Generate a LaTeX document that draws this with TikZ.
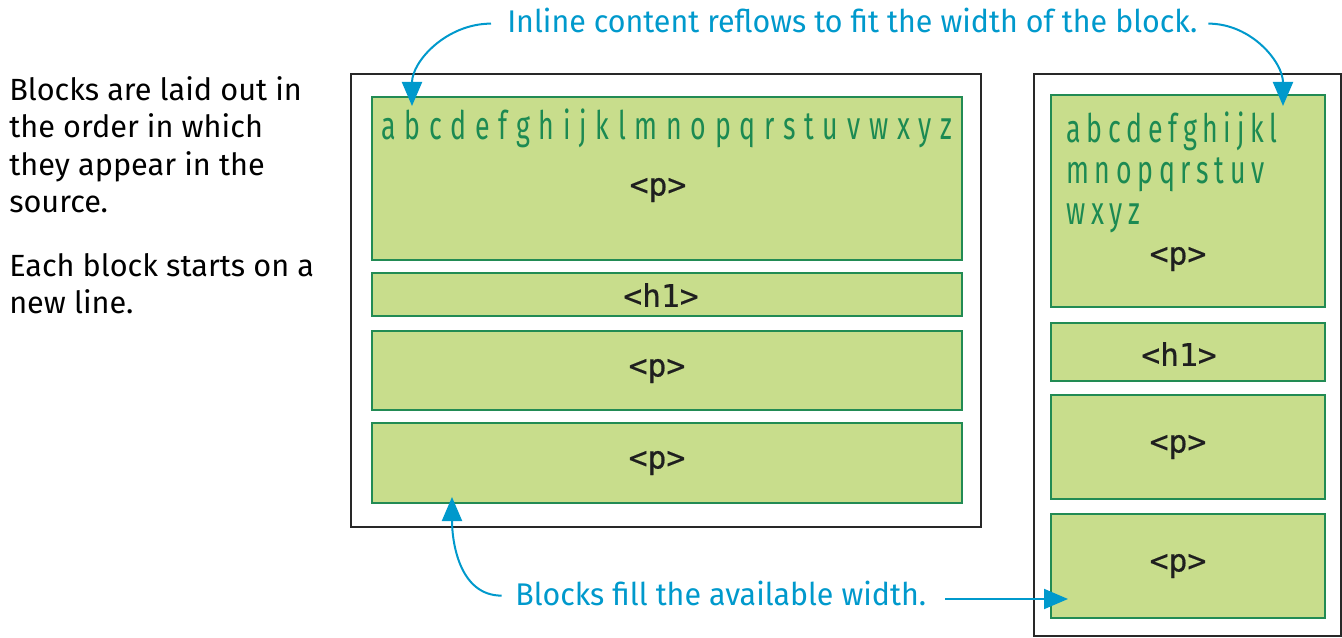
\documentclass[tikz,border=0pt]{standalone}
\usepackage{fontspec}
\setmainfont{Fira Sans}
\newfontfamily\narrowfont[FakeStretch=0.97]{Fira Sans}
\newfontfamily\alphafont[FakeStretch=0.68]{Fira Sans}
\newfontfamily\codefont[FakeBold=0.4]{DejaVu Sans Mono}
\usetikzlibrary{arrows.meta,fit}
\definecolor{callblue}{RGB}{0,153,204}
\definecolor{blockfill}{RGB}{200,221,140}
\definecolor{blockline}{RGB}{34,139,84}
\definecolor{alphagreen}{RGB}{28,138,82}
\definecolor{outerline}{RGB}{40,40,40}
\begin{document}
\begin{tikzpicture}[x=0.75pt,y=-0.75pt,
  outerbox/.style={draw=outerline, line width=1.5pt, inner sep=0pt},
  block/.style={draw=blockline, fill=blockfill, line width=1.5pt, inner sep=0pt},
  code/.style={font=\codefont\fontsize{23.5}{27}\selectfont, text=black!88, inner sep=0pt},
  alphabet/.style={font=\alphafont\fontsize{29.5}{30.75}\selectfont, text=alphagreen, inner sep=0pt, align=left},
  note/.style={font=\narrowfont\fontsize{23.5}{28}\selectfont, text=callblue, inner sep=0pt},
  body/.style={font=\fontsize{23}{28.1}\selectfont, inner sep=0pt, align=left},
  callout/.style={draw=callblue, line width=1.5pt, -{Triangle[length=18pt,width=15pt]}}
]
\useasboundingbox (0,0) rectangle (1342,638);
% left column text
\node[body, anchor=north west] (para1) at (9,76) {Blocks are laid out in\\the order in which\\they appear in the\\source.};
\node[body, anchor=north west] (para2) at (9,253) {Each block starts on a\\new line.};
% outer containers
\node[outerbox, fit={(351,74)(981,527)}] (wide) {};
\node[outerbox, fit={(1034,74)(1341,636)}] (narrow) {};
% wide blocks
\node[block, fit={(372,97)(962,260)}] (L1) {};
\node[block, fit={(372,273)(962,316)}] (L2) {};
\node[block, fit={(372,331)(962,410)}] (L3) {};
\node[block, fit={(372,423)(962,503)}] (L4) {};
% narrow blocks
\node[block, fit={(1051,95)(1325,307)}] (R1) {};
\node[block, fit={(1051,323)(1325,381)}] (R2) {};
\node[block, fit={(1051,395)(1325,499)}] (R3) {};
\node[block, fit={(1051,514)(1325,618)}] (R4) {};
% inline content
\node[alphabet, anchor=base west] (La) at (381,140) {\makebox[428.25pt][s]{a b c d e f g h i j k l m n o p q r s t u v w x y z}};
\node[alphabet, anchor=north west, execute at begin node={\spaceskip=0.8\fontdimen2\font}] (Ra) at (1066,112) {a b c d e f g h i j k l\\m n o p q r s t u v\\w x y z};
% tag labels
\node[code] (L1t) at (658,190) {<p>};
\node[code] (L2t) at (661,295) {<h1>};
\node[code] (L3t) at (657,371) {<p>};
\node[code] (L4t) at (657,463) {<p>};
\node[code] (R1t) at (1178,259) {<p>};
\node[code] (R2t) at (1179,354) {<h1>};
\node[code] (R3t) at (1178,447) {<p>};
\node[code] (R4t) at (1178,566) {<p>};
% callouts
\node[note, anchor=base west] (n1) at (507,33) {Inline content reflows to fit the width of the block.};
\node[note, anchor=base west] (n2) at (515,605) {Blocks fill the available width.};
\coordinate (t1) at (412,106);
\coordinate (t2) at (1283,106);
\coordinate (t3) at (452,497);
\coordinate (t4) at (1068,599);
\draw[callout] ([xshift=-12pt,yshift=-2pt]n1.west) to[out=180,in=90] (t1);
\draw[callout] ([xshift=8pt,yshift=-2pt]n1.east) to[out=0,in=90] (t2);
\draw[callout] ([xshift=-10pt,yshift=-2pt]n2.west) to[out=180,in=-90] (t3);
\draw[callout] ([xshift=14pt]n2.east |- t4) -- (t4);
\end{tikzpicture}
\end{document}
